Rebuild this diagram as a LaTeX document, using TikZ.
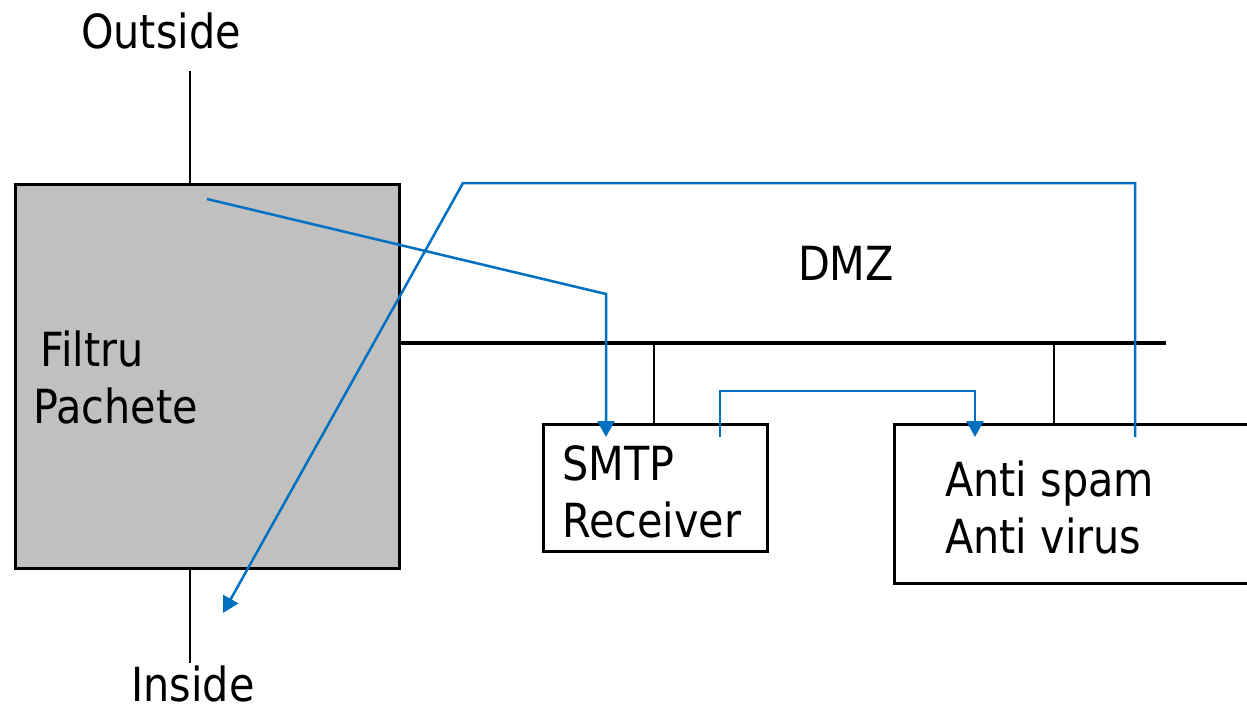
\documentclass[tikz,border=0pt]{standalone}
\usepackage{fontspec}
\setmainfont{DejaVu Sans}[FakeStretch=0.88]
\usetikzlibrary{arrows.meta}
\definecolor{netblue}{HTML}{0070C0}
\definecolor{boxgray}{HTML}{C0C0C0}
\tikzset{
  lbl/.style={inner sep=0pt, font=\fontsize{47}{57}\selectfont, anchor=base west},
  boxnode/.style={draw=black, line width=3pt, inner sep=0pt, anchor=north west},
  wire/.style={draw=black, line width=2.5pt},
  bus/.style={draw=black, line width=3.5pt},
  flow/.style={draw=netblue, line width=2.5pt, -{Triangle[length=16pt,width=17pt]}},
}
\begin{document}
\begin{tikzpicture}[x=1pt,y=-1pt]
\useasboundingbox (0,0) rectangle (1247,710);
% boxes
\node[boxnode, fill=boxgray, minimum width=384pt, minimum height=384pt] (filter) at (14,183) {};
\node[boxnode, fill=white, minimum width=224pt, minimum height=127pt] (smtp) at (542,423) {};
\node[boxnode, fill=white, minimum width=380pt, minimum height=159pt] (anti) at (893,423) {};
% labels
\node[lbl, anchor=base] (outside) at (161,48) {Outside};
\node[lbl, anchor=base] (inside) at (193,701) {Inside};
\node[lbl, anchor=base] (dmz) at (846,280) {DMZ};
\node[lbl] (filtru) at (40,366) {Filtru};
\node[lbl] (pachete) at (33,423) {Pachete};
\node[lbl] (smtpA) at (562,480) {SMTP};
\node[lbl] (smtpB) at (562,537) {Receiver};
\node[lbl] (antiA) at (945,496) {Anti spam};
\node[lbl] (antiB) at (945,553) {Anti virus};
% outside / inside wires
\coordinate (outTop) at (190,71);
\coordinate (inBot) at (190,663);
\draw[wire] (outTop) -- (outTop |- filter.north);
\draw[wire] (inBot) -- (inBot |- filter.south);
% DMZ bus
\coordinate (busEnd) at (1166,343);
\draw[bus] (filter.east |- busEnd) -- (busEnd);
\coordinate (dropA) at (654,343);
\coordinate (dropB) at (1054,343);
\draw[wire] (dropA) -- (dropA |- smtp.north);
\draw[wire] (dropB) -- (dropB |- anti.north);
% blue flows
\coordinate (f1a) at (207,199);
\coordinate (f1b) at (606,294);
\coordinate (f1c) at (606,437);
\draw[flow] (f1a) -- (f1b) -- (f1c);
\coordinate (f2a) at (720,437);
\coordinate (f2b) at (720,391);
\coordinate (f2c) at (975,391);
\coordinate (f2d) at (975,437);
\draw[flow] (f2a) -- (f2b) -- (f2c) -- (f2d);
\coordinate (f3a) at (1135,437);
\coordinate (f3b) at (1135,183);
\coordinate (f3c) at (463,183);
\coordinate (f3d) at (223,613);
\draw[flow] (f3a) -- (f3b) -- (f3c) -- (f3d);
\end{tikzpicture}
\end{document}
